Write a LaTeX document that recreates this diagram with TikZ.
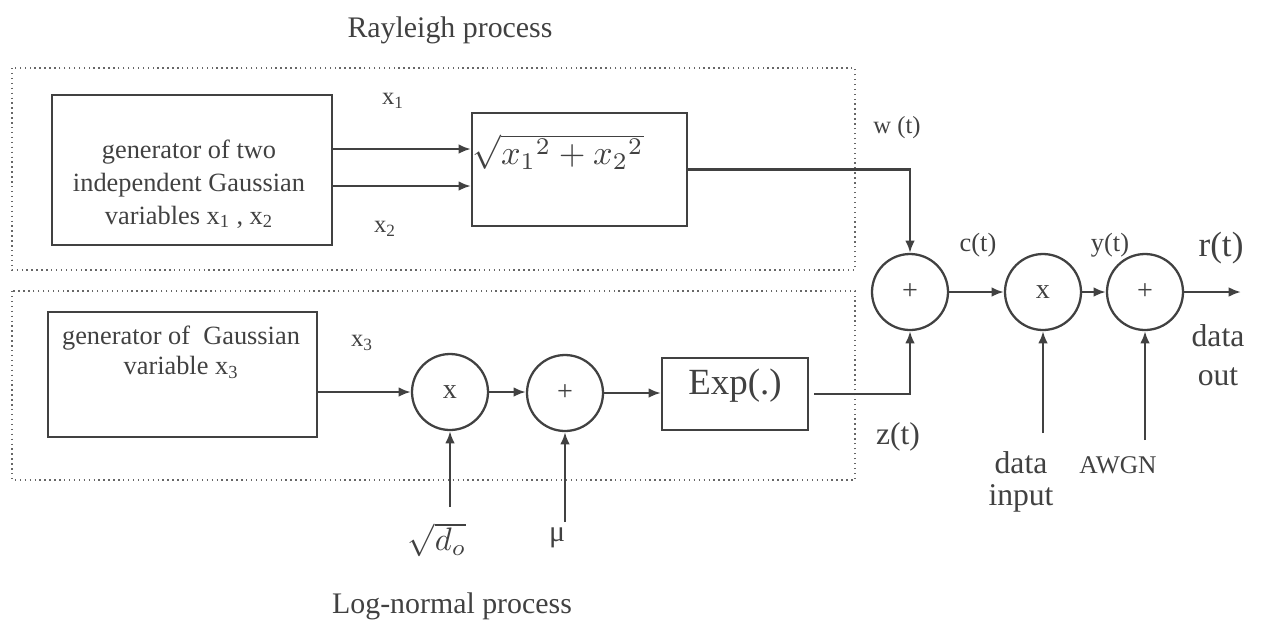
\documentclass[tikz,border=0pt]{standalone}
\usepackage{graphicx}
\usepackage{fontspec}
\setmainfont{Liberation Serif}
\usetikzlibrary{arrows.meta}
\definecolor{ink}{RGB}{65,65,65}
\newcommand{\fs}[2]{\fontsize{#1}{#2}\selectfont}
\begin{document}
\begin{tikzpicture}[x=0.02cm,y=-0.02cm,
  every node/.style={text=ink},
  box/.style={draw=ink,line width=1.3pt,rectangle,inner sep=0pt},
  opc/.style={draw=ink,line width=1.3pt,circle,minimum size=76*0.02cm,inner sep=0pt,font=\fs{16}{19}},
  arr/.style={draw=ink,line width=1.3pt,-{Latex[length=7pt,width=5.5pt]}},
  dots/.style={draw=ink!80,line width=0.8pt,dotted},
  lbl/.style={font=\fs{14}{17},inner sep=0pt},
  big/.style={font=\fs{17}{20},inner sep=0pt,align=center}]
\useasboundingbox (0,0) rectangle (1264,637);
% frames
\draw[dots] (12,68) rectangle (855,270);
\draw[dots] (12,291) rectangle (855,480);
% titles
\node[big] (t1) at (450,30) {Rayleigh process};
\node[big] (t2) at (452,606) {Log-normal process};
% Rayleigh part
\node[box,minimum width=280*0.02cm,minimum height=150*0.02cm] (gen1) at (192,170) {};
\node[font=\fs{15}{18.7},align=center,inner sep=0pt] (gen1t) at (189,184) {generator of two\\independent Gaussian\\variables x\textsubscript{1} , x\textsubscript{2}};
\node[box,minimum width=215*0.02cm,minimum height=113*0.02cm] (sq) at (579.5,169.5) {};
\node[inner sep=0pt] (sqt) at (558,152) {\scalebox{1.95}{$\sqrt{{x_1}^2+{x_2}^2}$}};
\coordinate (ya) at (0,149);
\coordinate (yb) at (0,186);
\draw[arr] (gen1.east |- ya) -- (sq.west |- ya);
\draw[arr] (gen1.east |- yb) -- (sq.west |- yb);
\node[lbl] (lx1) at (393,101) {x\textsubscript{1}};
\node[lbl] (lx2) at (385,229) {x\textsubscript{2}};
% log-normal part
\node[box,minimum width=269*0.02cm,minimum height=125*0.02cm] (gen2) at (182.5,374.5) {};
\node[font=\fs{15}{17},align=center,inner sep=0pt] (gen2t) at (181,352) {generator of \ Gaussian\\variable x\textsubscript{3}};
\node[lbl] (lx3) at (362,343) {x\textsubscript{3}};
\node[opc] (mul2) at (450,392) {x};
\node[opc] (sum3) at (565,393) {+};
\node[box,minimum width=146*0.02cm,minimum height=72*0.02cm] (exp) at (735,394) {};
\node[inner sep=0pt,font=\fs{21}{25}] (expt) at (735,386) {Exp(.)};
\draw[arr] (gen2.east |- mul2.west) -- (mul2.west);
\draw[arr] (mul2.east) -- (sum3.west |- mul2.east);
\draw[arr] (sum3.east) -- (exp.west |- sum3.east);
\node[inner sep=0pt] (sd) at (437,540) {\scalebox{1.85}{$\sqrt{d_o}$}};
\node[inner sep=0pt,font=\fs{17}{20}] (mu) at (557,538) {μ};
\coordinate (sdtop) at (450,507);
\coordinate (mutop) at (565,522);
\draw[arr] (sdtop) -- (mul2.south);
\draw[arr] (mutop) -- (sum3.south);
% right part
\node[opc] (sum1) at (910,292) {+};
\node[opc] (mul1) at (1043,292) {x};
\node[opc] (sum2) at (1145,292) {+};
\coordinate (out) at (1241,292);
\draw[arr] (sq.east) -| (sum1.north);
\draw[arr] ([xshift=5*0.02cm]exp.east) -| (sum1.south);
\draw[arr] (sum1.east) -- (mul1.west);
\draw[arr] (mul1.east) -- (sum2.west);
\draw[arr] (sum2.east) -- (out);
\coordinate (dintop) at (1043,433);
\coordinate (awtop) at (1145,440);
\draw[arr] (dintop) -- (mul1.south);
\draw[arr] (awtop) -- (sum2.south);
\node[lbl] (lw) at (897,128) {w (t)};
\node[inner sep=0pt,font=\fs{15}{18}] (lc) at (978,245) {c(t)};
\node[inner sep=0pt,font=\fs{15}{18}] (ly) at (1110,245) {y(t)};
\node[inner sep=0pt,font=\fs{20}{24}] (lr) at (1221,248) {r(t)};
\node[inner sep=0pt,font=\fs{18}{21}] (lz) at (898,437) {z(t)};
\node[big,font=\fs{18}{22}] (dout) at (1218,355) {data\\out};
\node[big,font=\fs{18}{18}] (din) at (1021,482) {data\\input};
\node[inner sep=0pt,font=\fs{14.5}{17}] (aw) at (1118,465) {AWGN};
\end{tikzpicture}
\end{document}
